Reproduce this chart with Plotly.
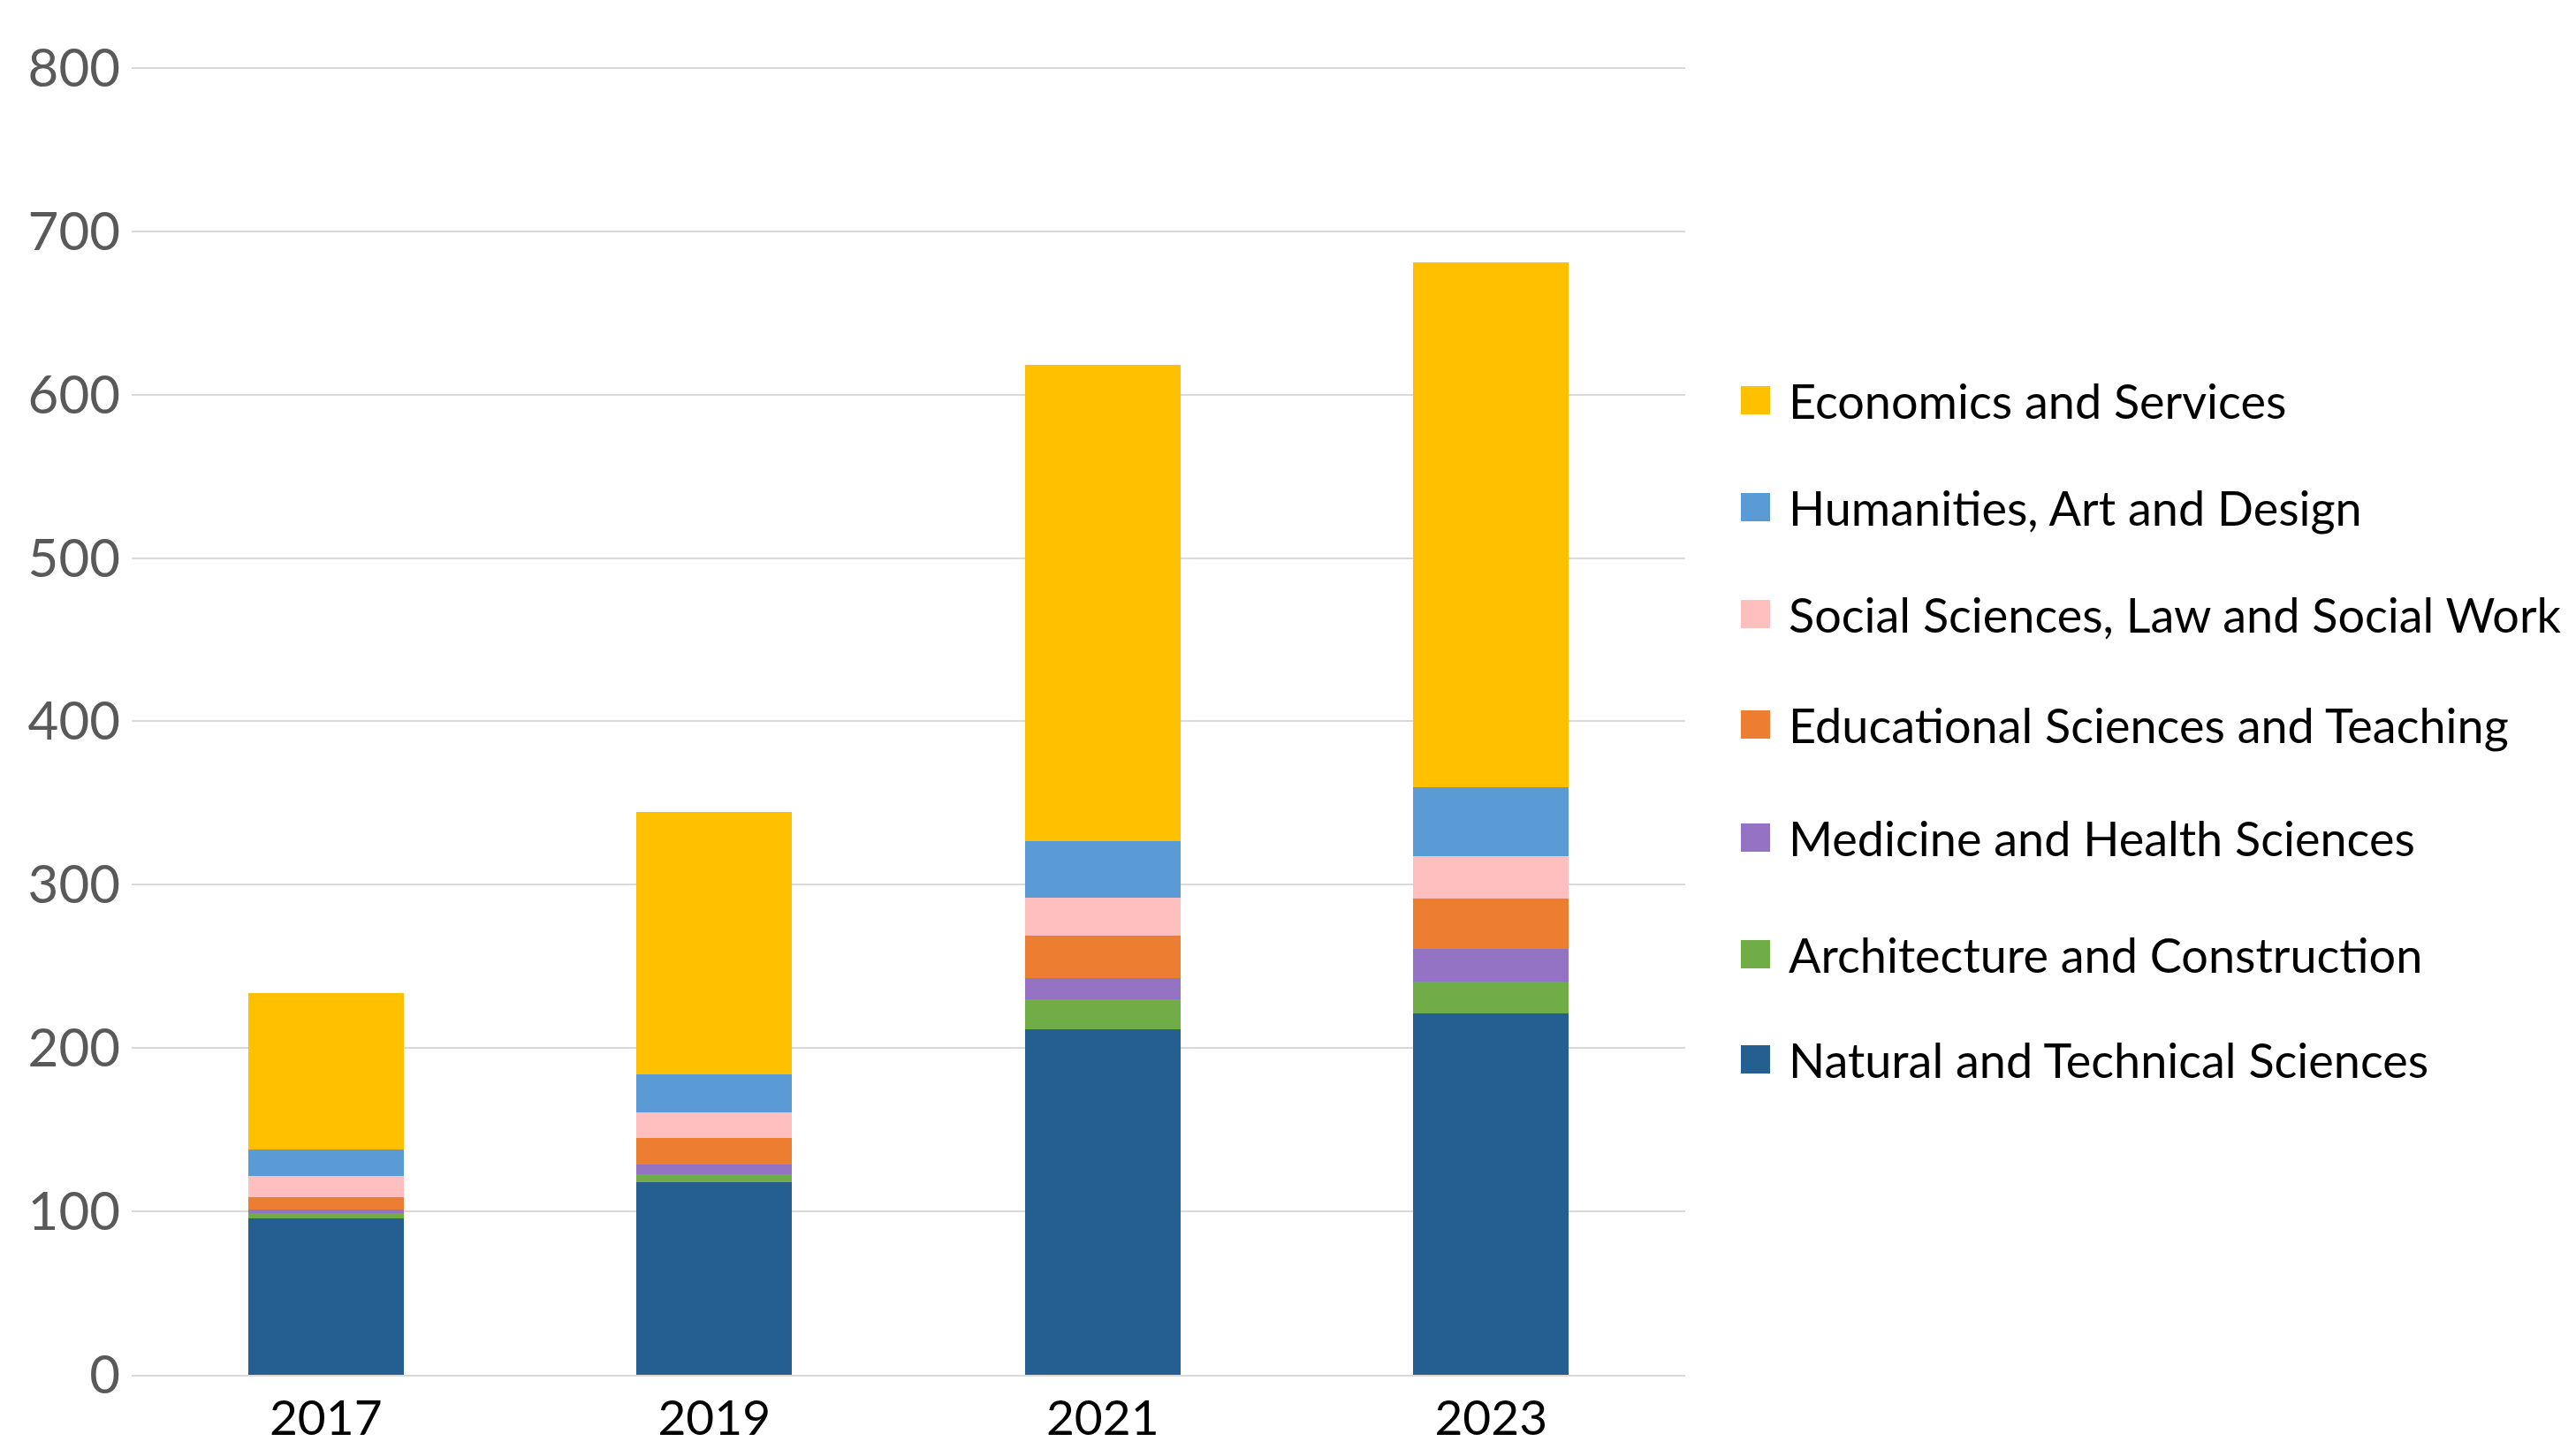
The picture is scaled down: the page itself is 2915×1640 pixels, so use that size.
import plotly.graph_objects as go

years = ["2017", "2019", "2021", "2023"]

natural = [95.5, 117.7, 211.4, 221.3]
architecture = [3.5, 4.9, 18.4, 19.2]
medicine = [2.4, 6.0, 12.8, 20.0]
education = [7.2, 16.1, 26.0, 30.8]
social = [13.2, 16.0, 23.7, 26.2]
humanities = [16.0, 23.3, 34.2, 42.3]
economics = [96.0, 160.7, 291.5, 321.0]

series_names = [
    "Natural and Technical Sciences",
    "Architecture and Construction",
    "Medicine and Health Sciences",
    "Educational Sciences and Teaching",
    "Social Sciences, Law and Social Work",
    "Humanities, Art and Design",
    "Economics and Services",
]
series_values = [natural, architecture, medicine, education, social, humanities, economics]
series_colors = ["#255E91", "#70AD47", "#9473C4", "#ED7D31", "#FFBFBF", "#5B9BD5", "#FFC000"]

W, H = 2915, 1640
ML, MR, MT, MB = 149, 1008, 75, 84
PW = W - ML - MR
PH = H - MT - MB
FONT = "Lato"

fig = go.Figure()
for name, vals, col in zip(series_names, series_values, series_colors):
    fig.add_trace(go.Bar(
        x=years, y=vals, name=name,
        marker=dict(color=col, line=dict(width=0)),
        showlegend=False,
    ))

# manual legend (top item = last series)
legend_rows_px = [453, 574, 695, 820, 948, 1080, 1199]
def px_x(px):
    return (px - ML) / PW
def px_y(py):
    return (H - MB - py) / PH

annotations = []
shapes = []
for i, (name, col) in enumerate(zip(reversed(series_names), reversed(series_colors))):
    cy = legend_rows_px[i]
    shapes.append(dict(
        type="rect", xref="paper", yref="paper",
        x0=px_x(1970), x1=px_x(2003), y0=px_y(cy + 16), y1=px_y(cy - 16),
        fillcolor=col, line=dict(width=0),
    ))
    annotations.append(dict(
        text=name, xref="paper", yref="paper",
        x=px_x(2022), y=px_y(cy), xanchor="left", yanchor="middle",
        showarrow=False, font=dict(family=FONT, size=54, color="#000000"),
    ))

fig.update_layout(
    width=W, height=H,
    margin=dict(l=ML, r=MR, t=MT, b=MB, pad=0),
    barmode="stack",
    bargap=0.6,
    plot_bgcolor="white",
    paper_bgcolor="white",
    showlegend=False,
    annotations=annotations,
    shapes=shapes,
    font=dict(family=FONT),
)
fig.update_xaxes(
    showgrid=False, showline=True, linecolor="#D9D9D9", linewidth=2,
    tickfont=dict(family=FONT, size=55, color="#000000"),
    ticks="", automargin=False,
)
fig.update_yaxes(
    range=[0, 801], tickvals=[0, 100, 200, 300, 400, 500, 600, 700, 800],
    showgrid=True, gridcolor="#D9D9D9", gridwidth=2,
    zeroline=False, showline=False, ticks="", automargin=False,
    tickfont=dict(family=FONT, size=60, color="#595959"),
    ticklabelstandoff=12,
)

fig.write_html("out.html")
